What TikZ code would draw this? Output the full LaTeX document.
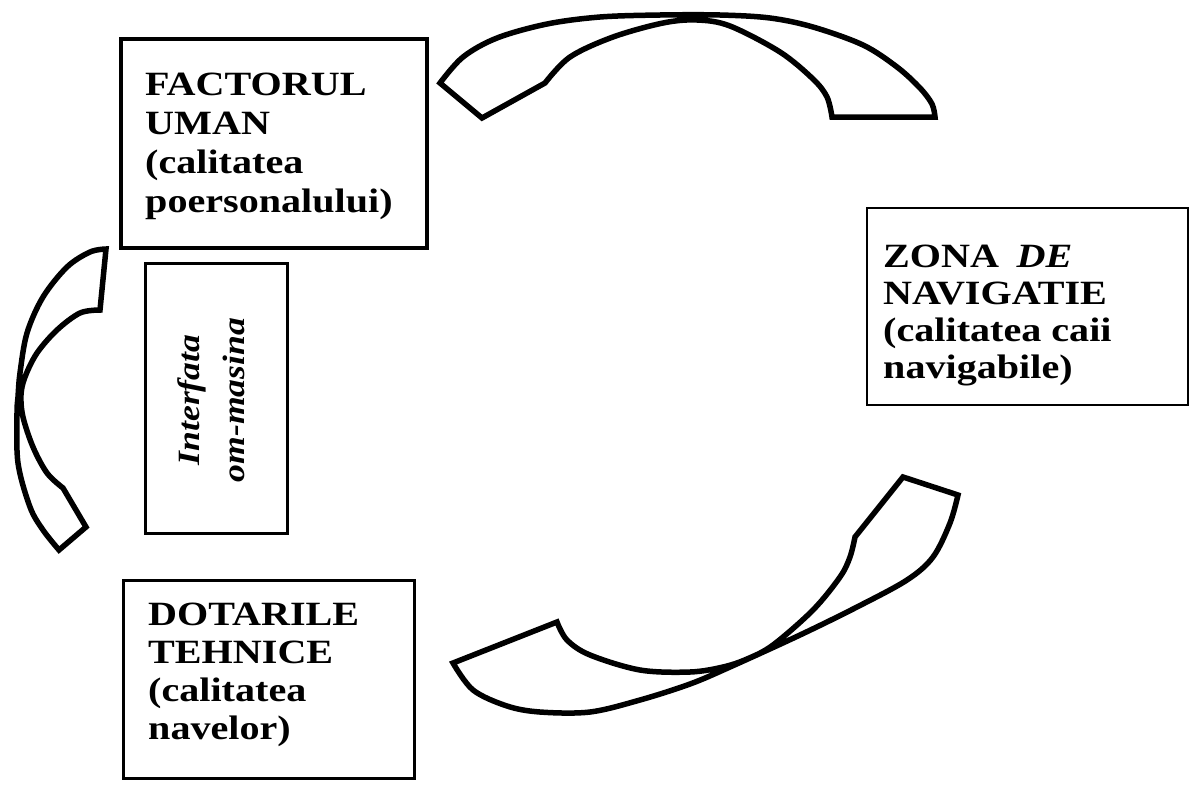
\documentclass[tikz,border=0pt]{standalone}
\usepackage{fontspec}
\usepackage{graphicx}
\setmainfont{Liberation Serif}

% stacked, horizontally widened lines of a box label
\newcommand\labelstack[2]{\scalebox{#1}[1]{\begin{tabular}[t]{@{}l@{}}#2\end{tabular}}}

\begin{document}
\begin{tikzpicture}[x=1pt,y=-1pt,
  frame/.style={draw=black, rectangle, inner sep=0pt},
  boxlabel/.style={inner sep=0pt, anchor=base west},
  band/.style={draw=black, line width=5.5pt, line join=miter}]

\fill[white] (0,0) rectangle (1191,785);
\useasboundingbox (0,0) rectangle (1191,785);

% ---- boxes ----
\node[frame, line width=3.5pt, minimum width=306pt, minimum height=209pt] (fu) at (274,143.5) {};
\node[frame, line width=3pt,   minimum width=142pt, minimum height=270pt] (im) at (216,398) {};
\node[frame, line width=2.5pt, minimum width=321pt, minimum height=197pt] (zn) at (1027.5,306.5) {};
\node[frame, line width=3pt,   minimum width=291pt, minimum height=198pt] (dt) at (268.5,679) {};

% ---- box texts ----
\node[boxlabel, font=\bfseries\fontsize{34}{39}\selectfont] (fut) at (145,95)
  {\labelstack{1.18}{FACTORUL\\UMAN\\(calitatea\\poersonalului)}};
\node[boxlabel, font=\bfseries\fontsize{34}{37}\selectfont] (znt) at (883,267)
  {\labelstack{1.18}{\makebox[113pt][l]{ZONA}\textit{DE}\\NAVIGATIE\\(calitatea caii\\navigabile)}};
\node[boxlabel, font=\bfseries\fontsize{34}{38.3}\selectfont] (dtt) at (148,625)
  {\labelstack{1.18}{DOTARILE\\TEHNICE\\(calitatea\\navelor)}};
\node[inner sep=0pt, rotate=90, font=\bfseries\itshape\fontsize{31}{45}\selectfont] (imt) at (213,400)
  {\scalebox{1.15}[1]{\begin{tabular}{@{}c@{}}Interfata\\om-masina\end{tabular}}};

% ---- curved arrow over the top ----
\draw[band]
  plot[smooth, tension=0.55] coordinates {(440,83) (463,57) (497,38) (547,24) (600,17) (660,15)
       (720,15) (770,18) (813,27) (863,45) (897,67) (920,88) (932,104) (935,117)}
  -- plot[smooth, tension=0.55] coordinates {(832,117) (827,97) (813,79) (780,52) (730,26)
       (697,20) (663,23) (613,37) (570,57) (545,83)}
  -- (482,118) -- cycle;

% ---- curved arrow on the left ----
\draw[band]
  plot[smooth, tension=0.55] coordinates {(106,249) (90,252) (67,267) (43,297) (27,333) (20,373)
       (18,397) (17,413) (18,463) (30,507) (43,530) (59,550)}
  -- (86,527)
  -- plot[smooth, tension=0.55] coordinates {(63,488) (47,473) (33,447) (23,417) (21,395)
       (25,377) (37,353) (57,330) (80,313) (100,310)}
  -- cycle;

% ---- curved arrow at the bottom ----
\draw[band]
  plot[smooth, tension=0.55] coordinates {(453,663) (473,690) (507,706) (540,712) (590,712)
       (640,700) (690,684) (730,667) (800,635) (857,607) (907,580) (933,557) (950,523) (958,495)}
  -- (903,477)
  -- plot[smooth, tension=0.55] coordinates {(855,537) (850,557) (840,577) (813,610) (773,645)
       (747,659) (723,667) (690,672) (640,670) (590,655) (567,640) (557,622)}
  -- cycle;

\end{tikzpicture}
\end{document}
